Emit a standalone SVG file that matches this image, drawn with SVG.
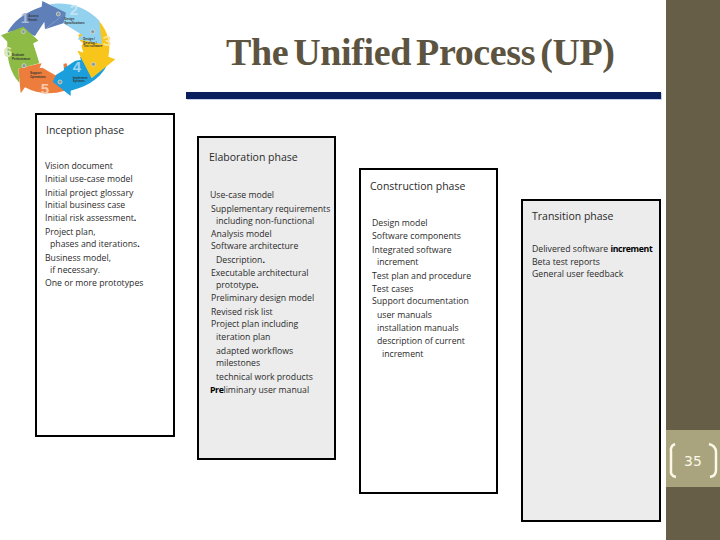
<svg xmlns="http://www.w3.org/2000/svg" width="720" height="540" viewBox="0 0 720 540">
<style>
.box{stroke:#000;stroke-width:2}
.w{fill:#fff}
.g{fill:#ececec}
text{font-family:"Open Sans","Liberation Sans",sans-serif}
.t{font-size:10.5px;fill:#2a2a2a}
.l{font-size:8.7px;fill:#2a2a2a}
.b{font-weight:700;fill:#000;letter-spacing:-.35px}
.ball{fill:#8a9a96;stroke:#dfe6e4;stroke-width:2}
.n{font-family:"Liberation Sans",sans-serif;font-size:15px;font-weight:700;text-anchor:middle}
.s{font-family:"Liberation Sans",sans-serif;font-size:9px;font-weight:700;fill:#333}
</style>
<rect width="720" height="540" fill="#fff"/>
<g id="logo">
<g transform="scale(0.3333)">
<path d="M195,272 Q130,292 75,262 L62,280 L55,206 L125,190 L118,205 L200,190 L215,270 Z" fill="#ed7d3c"/>
<path d="M330,175 Q305,250 212,272 L212,288 L158,245 L188,185 L192,205 L260,160 Z" fill="#1b9fdc"/>
<path d="M295,60 Q338,110 325,170 L346,178 L275,235 L232,152 L250,158 L235,105 Z" fill="#f8c61a"/>
<path d="M150,12 Q240,2 298,62 L306,132 L232,118 L247,105 L190,70 L170,30 Z" fill="#93d2ef"/>
<path d="M22,97 Q50,45 125,20 L127,3 L198,38 L135,88 L133,65 L105,108 L60,90 Z" fill="#5f7fb9"/>
<path d="M58,248 Q18,205 22,125 L3,106 L70,80 L116,122 L100,130 L118,190 L55,206 Z" fill="#8dbb45"/>
<path d="M113,124 L135,90 L165,84 L192,72 L232,118 L250,130 L232,152 L243,180 L190,186 L192,210 L166,226 L122,200 L120,186 L100,132 Z" fill="#fff"/>
<path d="M135,88 L198,38 L190,70 Z" fill="#5f7fb9"/>
<path d="M232,152 L250,158 L262,190 Z" fill="#f8c61a"/>
<path d="M125,190 L118,205 L55,206 Z" fill="#ed7d3c"/>
<circle class="ball" cx="175" cy="42" r="6"/><circle class="ball" cx="278" cy="95" r="6"/><circle class="ball" cx="280" cy="193" r="6"/><circle class="ball" cx="180" cy="246" r="6"/><circle class="ball" cx="72" cy="197" r="6"/><circle class="ball" cx="70" cy="95" r="6"/>
<text class="s" x="85" y="52">Assess</text><text class="s" x="85" y="62">Needs</text>
<text class="s" x="193" y="60">Design</text><text class="s" x="193" y="71">Specifications</text>
<text class="s" x="250" y="120">Design /</text><text class="s" x="250" y="131">Develop /</text><text class="s" x="250" y="142">Test software</text>
<text class="s" x="218" y="236">Implement</text><text class="s" x="218" y="247">Systems</text>
<text class="s" x="90" y="223">Support</text><text class="s" x="90" y="234">Operations</text>
<text class="s" x="36" y="168">Evaluate</text><text class="s" x="36" y="179">Performance</text>
</g>
<text class="n" x="25" y="23" fill="#a9b9d9">1</text>
<text class="n" x="74" y="15" fill="#c0e4f5">2</text>
<text class="n" x="107" y="46" fill="#fbe38c">3</text>
<text class="n" x="77" y="72" fill="#9dd4f0">4</text>
<text class="n" x="45" y="94" fill="#f8c8a8">5</text>
<text class="n" x="8" y="57" fill="#d5e6ba">6</text>
</g>
<g id="title">
<text x="226" y="65" textLength="389" lengthAdjust="spacing" style="font-family:'Liberation Serif',serif;font-size:38px;font-weight:700;fill:#5c5440;word-spacing:-4px">The Unified Process (UP)</text>
<rect x="187" y="93" width="475" height="7" fill="#9fb4d8" opacity=".6"/>
<rect x="186" y="92" width="475" height="7" fill="#0a205e"/>
</g>
<g id="sidebar">
<rect x="666" width="54" height="540" fill="#665e46"/>
<rect x="666" y="430" width="54" height="57" fill="#a9a47e"/>
<path d="M675,444 Q670,446 671,452 V470 Q670,476 676,477 M709,444 Q716,446 716,452 V470 Q716,476 710,477" fill="none" stroke="#fbf8e8" stroke-width="2.5"/>
<text x="693" y="466" text-anchor="middle" style="font-family:'DejaVu Sans',sans-serif;font-size:14px;fill:#fbf8e8">35</text>
</g>
<g id="inception">
<rect class="box w" x="36" y="114" width="138" height="322"/>
<text class="t" x="46" y="134">Inception phase</text>
<text class="l" x="45" y="169">Vision document</text>
<text class="l" x="45" y="182">Initial use-case model</text>
<text class="l" x="45" y="196">Initial project glossary</text>
<text class="l" x="45" y="208">Initial business case</text>
<text class="l" x="45" y="221">Initial risk assessment<tspan class="b">.</tspan></text>
<text class="l" x="45" y="235">Project plan,</text>
<text class="l" x="50" y="247">phases and iterations<tspan class="b">.</tspan></text>
<text class="l" x="45" y="261">Business model,</text>
<text class="l" x="50" y="273">if necessary.</text>
<text class="l" x="45" y="286">One or more prototypes</text>
</g>
<g id="elaboration">
<rect class="box g" x="198" y="137" width="137" height="322"/>
<text class="t" x="209" y="161">Elaboration phase</text>
<text class="l" x="210" y="198">Use-case model</text>
<text class="l" x="211" y="212">Supplementary requirements</text>
<text class="l" x="216" y="224">including non-functional</text>
<text class="l" x="211" y="237">Analysis model</text>
<text class="l" x="211" y="249">Software architecture</text>
<text class="l" x="216" y="263">Description<tspan class="b">.</tspan></text>
<text class="l" x="211" y="276">Executable architectural</text>
<text class="l" x="216" y="288">prototype<tspan class="b">.</tspan></text>
<text class="l" x="211" y="301">Preliminary design model</text>
<text class="l" x="211" y="315">Revised risk list</text>
<text class="l" x="211" y="327">Project plan including</text>
<text class="l" x="216" y="340">iteration plan</text>
<text class="l" x="216" y="354">adapted workflows</text>
<text class="l" x="216" y="366">milestones</text>
<text class="l" x="216" y="380">technical work products</text>
<text class="l" x="210" y="393"><tspan class="b">Pre</tspan>liminary user manual</text>
</g>
<g id="construction">
<rect class="box w" x="360" y="169" width="137" height="324"/>
<text class="t" x="370" y="190">Construction phase</text>
<text class="l" x="372" y="226">Design model</text>
<text class="l" x="372" y="239">Software components</text>
<text class="l" x="372" y="253">Integrated software</text>
<text class="l" x="377" y="265">increment</text>
<text class="l" x="372" y="279">Test plan and procedure</text>
<text class="l" x="372" y="292">Test cases</text>
<text class="l" x="372" y="304">Support documentation</text>
<text class="l" x="377" y="318">user manuals</text>
<text class="l" x="377" y="331">installation manuals</text>
<text class="l" x="377" y="344">description of current</text>
<text class="l" x="382" y="357">increment</text>
</g>
<g id="transition">
<rect class="box g" x="522" y="200" width="138" height="321"/>
<text class="t" x="532" y="220">Transition phase</text>
<text class="l" x="532" y="252">Delivered software <tspan class="b">increment</tspan></text>
<text class="l" x="532" y="265">Beta test reports</text>
<text class="l" x="532" y="277">General user feedback</text>
</g>
</svg>
